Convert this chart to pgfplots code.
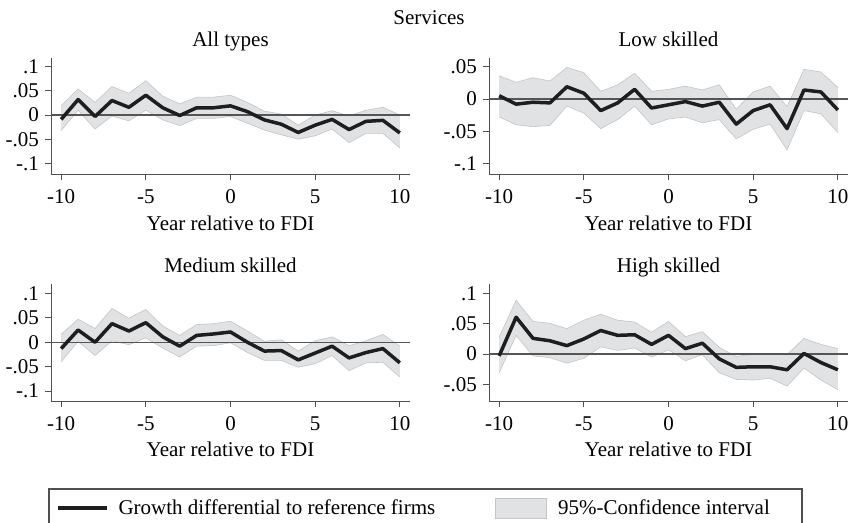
\documentclass[border=0pt]{standalone}
\usepackage{pgfplots}
\pgfplotsset{compat=1.18}
\usepackage{pgfplotstable}
\usepackage{fontspec}
\setmainfont{Liberation Serif}
\definecolor{cifill}{RGB}{225,226,228}
\definecolor{ciedge}{RGB}{196,196,198}
\definecolor{estcol}{RGB}{30,30,30}
\definecolor{axcol}{RGB}{80,80,80}
\definecolor{zerocol}{RGB}{85,85,85}

\pgfplotstableread{
x est lo hi
-10 -0.009 -0.032 0.019
-9 0.032 0.010 0.054
-8 -0.003 -0.029 0.026
-7 0.030 -0.002 0.059
-6 0.016 -0.012 0.045
-5 0.041 0.010 0.071
-4 0.015 -0.010 0.039
-3 -0.001 -0.022 0.023
-2 0.015 -0.007 0.037
-1 0.015 -0.007 0.037
0 0.019 -0.003 0.041
1 0.007 -0.017 0.026
2 -0.010 -0.031 0.008
3 -0.019 -0.041 0.002
4 -0.036 -0.050 -0.021
5 -0.021 -0.043 0.000
6 -0.009 -0.029 0.009
7 -0.030 -0.057 -0.002
8 -0.013 -0.038 0.010
9 -0.011 -0.038 0.016
10 -0.037 -0.068 0.000
}\alltab

\pgfplotstableread{
x est lo hi
-10 0.005 -0.028 0.036
-9 -0.008 -0.040 0.026
-8 -0.005 -0.043 0.033
-7 -0.006 -0.041 0.028
-6 0.019 -0.011 0.049
-5 0.009 -0.022 0.041
-4 -0.018 -0.046 0.012
-3 -0.006 -0.032 0.022
-2 0.015 -0.011 0.040
-1 -0.014 -0.040 0.012
0 -0.009 -0.031 0.015
1 -0.004 -0.028 0.020
2 -0.011 -0.037 0.014
3 -0.005 -0.032 0.022
4 -0.039 -0.062 -0.016
5 -0.018 -0.047 0.011
6 -0.009 -0.039 0.020
7 -0.046 -0.079 -0.012
8 0.014 -0.018 0.046
9 0.011 -0.023 0.042
10 -0.017 -0.052 0.018
}\lowtab

\pgfplotstableread{
x est lo hi
-10 -0.013 -0.040 0.016
-9 0.025 0.002 0.047
-8 0.000 -0.027 0.028
-7 0.038 0.003 0.069
-6 0.023 -0.005 0.049
-5 0.040 0.009 0.067
-4 0.011 -0.012 0.033
-3 -0.008 -0.030 0.014
-2 0.014 -0.008 0.036
-1 0.017 -0.007 0.038
0 0.021 -0.001 0.043
1 0.000 -0.021 0.023
2 -0.018 -0.037 0.002
3 -0.017 -0.037 0.005
4 -0.036 -0.051 -0.018
5 -0.022 -0.044 0.003
6 -0.008 -0.027 0.011
7 -0.032 -0.058 -0.007
8 -0.021 -0.042 0.003
9 -0.013 -0.041 0.016
10 -0.042 -0.071 -0.008
}\medtab

\pgfplotstableread{
x est lo hi
-10 -0.003 -0.031 0.028
-9 0.061 0.031 0.089
-8 0.026 -0.003 0.054
-7 0.022 -0.006 0.051
-6 0.014 -0.015 0.042
-5 0.025 -0.007 0.056
-4 0.039 0.012 0.066
-3 0.031 0.006 0.056
-2 0.032 0.010 0.053
-1 0.016 -0.005 0.036
0 0.031 0.007 0.054
1 0.009 -0.011 0.029
2 0.018 -0.001 0.037
3 -0.008 -0.031 0.011
4 -0.022 -0.042 -0.004
5 -0.021 -0.043 0.000
6 -0.021 -0.040 0.000
7 -0.026 -0.053 -0.001
8 0.001 -0.023 0.026
9 -0.014 -0.043 0.016
10 -0.026 -0.059 0.009
}\hightab

\pgfplotsset{
  panel/.style={
    scale only axis,
    width=359bp,
    xmin=-10.6, xmax=10.6,
    axis x line*=bottom, axis y line*=left,
    axis line style={axcol, line width=1bp},
    tick style={axcol, line width=1bp},
    tick align=outside,
    major tick length=6bp,
    xtick={-10,-5,0,5,10},
    xticklabels={-10,-5,0,5,10},
    xticklabel style={anchor=base, inner sep=0pt, yshift=-23bp},
    yticklabel style={anchor=east, inner sep=0pt, xshift=-6bp},
    ticklabel style={font=\fontsize{21bp}{24bp}\selectfont},
  },
}

\begin{document}
\fontsize{21bp}{24bp}\selectfont
\begin{tikzpicture}
\useasboundingbox (0,0) rectangle (858bp,-523bp);

\node[anchor=base, inner sep=0pt] at (429bp,-24bp) {Services};

% Panel 1
\begin{axis}[panel, at={(51bp,-174bp)}, anchor=south west, height=116bp,
  ymin=-0.122, ymax=0.118,
  ytick={-0.1,-0.05,0,0.05,0.1}, yticklabels={-.1,-.05,0,.05,.1}]
\addplot[draw=none, stack plots=y, forget plot] table[x=x, y=lo] {\alltab};
\addplot[fill=cifill, draw=none, stack plots=y, forget plot] table[x=x, y expr=\thisrow{hi}-\thisrow{lo}] {\alltab} \closedcycle;
\addplot[ciedge, line width=0.6bp, stack plots=false] table[x=x, y=hi] {\alltab};
\addplot[ciedge, line width=0.6bp, stack plots=false] table[x=x, y=lo] {\alltab};
\addplot[zerocol, line width=1.4bp, stack plots=false] coordinates {(-10.6,0) (10.6,0)};
\addplot[estcol, line width=3.5bp, line join=round, stack plots=false] table[x=x, y=est] {\alltab};
\end{axis}
\node[anchor=base, inner sep=0pt] at (230.5bp,-46bp) {All types};
\node[anchor=base, inner sep=0pt] at (230.5bp,-230bp) {Year relative to FDI};

% Panel 2
\begin{axis}[panel, at={(489bp,-174bp)}, anchor=south west, height=116bp,
  ymin=-0.1165, ymax=0.0637,
  ytick={-0.1,-0.05,0,0.05}, yticklabels={-.1,-.05,0,.05}]
\addplot[draw=none, stack plots=y, forget plot] table[x=x, y=lo] {\lowtab};
\addplot[fill=cifill, draw=none, stack plots=y, forget plot] table[x=x, y expr=\thisrow{hi}-\thisrow{lo}] {\lowtab} \closedcycle;
\addplot[ciedge, line width=0.6bp, stack plots=false] table[x=x, y=hi] {\lowtab};
\addplot[ciedge, line width=0.6bp, stack plots=false] table[x=x, y=lo] {\lowtab};
\addplot[zerocol, line width=1.4bp, stack plots=false] coordinates {(-10.6,0) (10.6,0)};
\addplot[estcol, line width=3.5bp, line join=round, stack plots=false] table[x=x, y=est] {\lowtab};
\end{axis}
\node[anchor=base, inner sep=0pt] at (668.5bp,-46bp) {Low skilled};
\node[anchor=base, inner sep=0pt] at (668.5bp,-230bp) {Year relative to FDI};

% Panel 3
\begin{axis}[panel, at={(51bp,-401bp)}, anchor=south west, height=117bp,
  ymin=-0.120, ymax=0.119,
  ytick={-0.1,-0.05,0,0.05,0.1}, yticklabels={-.1,-.05,0,.05,.1}]
\addplot[draw=none, stack plots=y, forget plot] table[x=x, y=lo] {\medtab};
\addplot[fill=cifill, draw=none, stack plots=y, forget plot] table[x=x, y expr=\thisrow{hi}-\thisrow{lo}] {\medtab} \closedcycle;
\addplot[ciedge, line width=0.6bp, stack plots=false] table[x=x, y=hi] {\medtab};
\addplot[ciedge, line width=0.6bp, stack plots=false] table[x=x, y=lo] {\medtab};
\addplot[zerocol, line width=1.4bp, stack plots=false] coordinates {(-10.6,0) (10.6,0)};
\addplot[estcol, line width=3.5bp, line join=round, stack plots=false] table[x=x, y=est] {\medtab};
\end{axis}
\node[anchor=base, inner sep=0pt] at (230.5bp,-272bp) {Medium skilled};
\node[anchor=base, inner sep=0pt] at (230.5bp,-456bp) {Year relative to FDI};

% Panel 4
\begin{axis}[panel, at={(489bp,-401bp)}, anchor=south west, height=117bp,
  ymin=-0.0777, ymax=0.116,
  ytick={-0.05,0,0.05,0.1}, yticklabels={-.05,0,.05,.1}]
\addplot[draw=none, stack plots=y, forget plot] table[x=x, y=lo] {\hightab};
\addplot[fill=cifill, draw=none, stack plots=y, forget plot] table[x=x, y expr=\thisrow{hi}-\thisrow{lo}] {\hightab} \closedcycle;
\addplot[ciedge, line width=0.6bp, stack plots=false] table[x=x, y=hi] {\hightab};
\addplot[ciedge, line width=0.6bp, stack plots=false] table[x=x, y=lo] {\hightab};
\addplot[zerocol, line width=1.4bp, stack plots=false] coordinates {(-10.6,0) (10.6,0)};
\addplot[estcol, line width=3.5bp, line join=round, stack plots=false] table[x=x, y=est] {\hightab};
\end{axis}
\node[anchor=base, inner sep=0pt] at (668.5bp,-272bp) {High skilled};
\node[anchor=base, inner sep=0pt] at (668.5bp,-456bp) {Year relative to FDI};

% Legend
\draw[axcol, line width=1.3bp] (49bp,-540bp) -- (49bp,-489bp) -- (802bp,-489bp) -- (802bp,-540bp);
\draw[estcol, line width=4bp] (58bp,-507.5bp) -- (106.5bp,-507.5bp);
\node[anchor=base west, inner sep=0pt] at (118.3bp,-514bp) {Growth differential to reference firms};
\filldraw[fill=cifill, draw=ciedge, line width=0.8bp] (495bp,-498bp) rectangle (546bp,-518bp);
\node[anchor=base west, inner sep=0pt] at (558bp,-514bp) {95\%-Confidence interval};
\end{tikzpicture}
\end{document}
